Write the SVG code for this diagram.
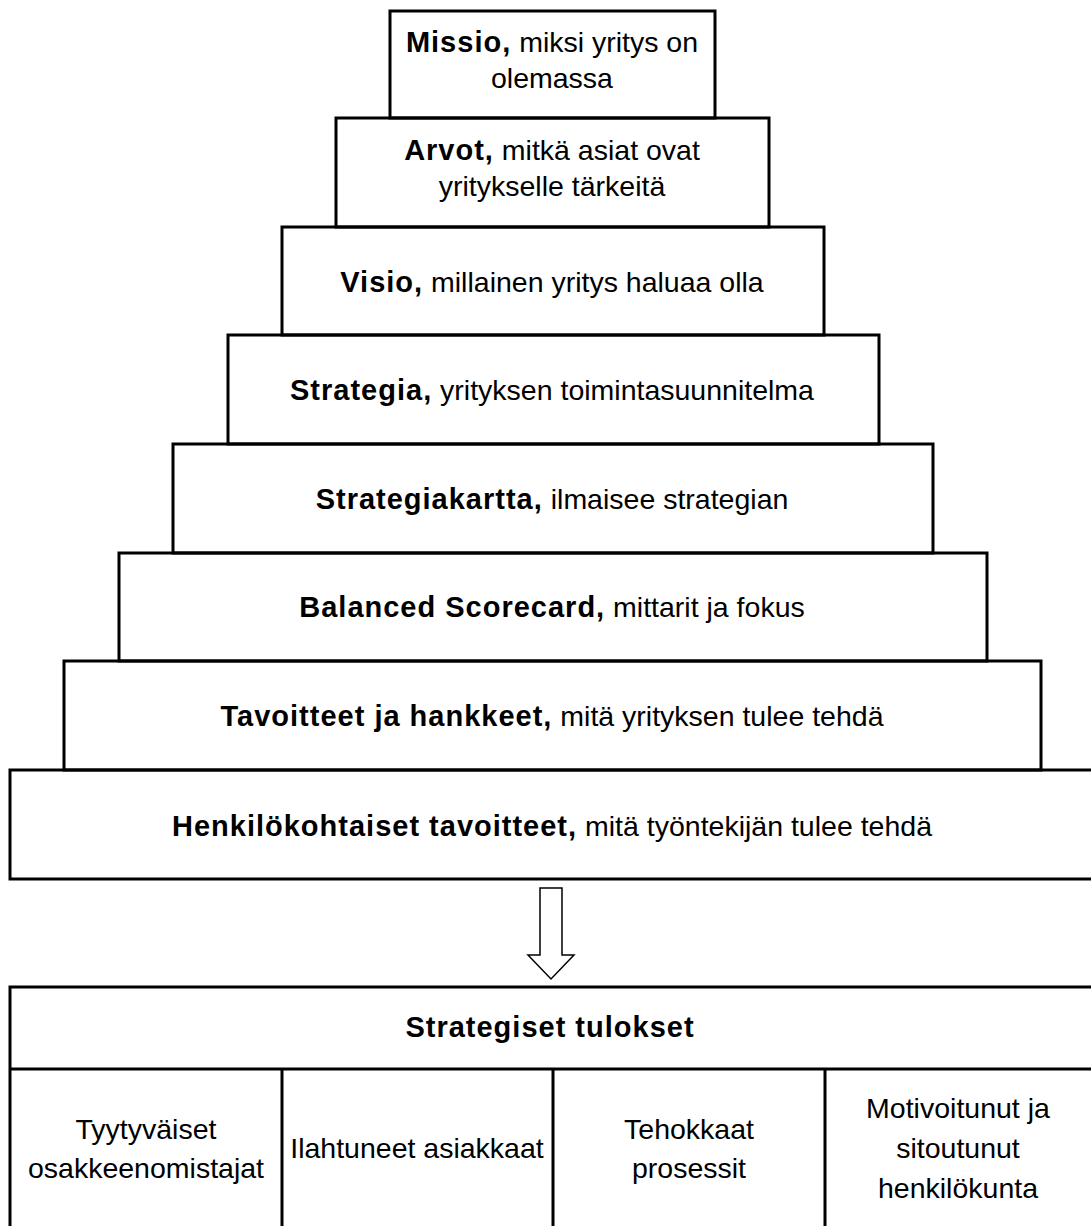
<svg xmlns="http://www.w3.org/2000/svg" width="1091" height="1226" viewBox="0 0 1091 1226">
  <style>
    .box { fill: none; stroke: #000; stroke-width: 3; }
    .line { stroke: #000; stroke-width: 3; }
    text { font-family: "Liberation Sans", Arial, sans-serif; font-size: 28.5px; fill: #000; text-anchor: middle; }
    .b { font-weight: bold; font-size: 29px; letter-spacing: 1px; }
    .arrow { fill: #fff; stroke: #000; stroke-width: 1.5; stroke-linejoin: miter; }
  </style>
  <rect width="1091" height="1226" fill="#fff"/>

  <!-- pyramid of levels, narrowest at the top -->
  <g id="missio">
    <rect class="box" x="390" y="11" width="325" height="107"/>
    <text x="552" y="52"><tspan class="b">Missio,</tspan> miksi yritys on</text>
    <text x="552" y="88">olemassa</text>
  </g>
  <g id="arvot">
    <rect class="box" x="336" y="118" width="433" height="109"/>
    <text x="552" y="160"><tspan class="b">Arvot,</tspan> mitkä asiat ovat</text>
    <text x="552" y="196">yritykselle tärkeitä</text>
  </g>
  <g id="visio">
    <rect class="box" x="282" y="227" width="542" height="108"/>
    <text x="552" y="292"><tspan class="b">Visio,</tspan> millainen yritys haluaa olla</text>
  </g>
  <g id="strategia">
    <rect class="box" x="228" y="335" width="651" height="109"/>
    <text x="552" y="400"><tspan class="b">Strategia,</tspan> yrityksen toimintasuunnitelma</text>
  </g>
  <g id="strategiakartta">
    <rect class="box" x="173" y="444" width="760" height="109"/>
    <text x="552" y="509"><tspan class="b">Strategiakartta,</tspan> ilmaisee strategian</text>
  </g>
  <g id="balanced-scorecard">
    <rect class="box" x="119" y="553" width="868" height="108"/>
    <text x="552" y="617"><tspan class="b">Balanced Scorecard,</tspan> mittarit ja fokus</text>
  </g>
  <g id="tavoitteet">
    <rect class="box" x="64" y="661" width="977" height="109"/>
    <text x="552" y="726"><tspan class="b">Tavoitteet ja hankkeet,</tspan> mitä yrityksen tulee tehdä</text>
  </g>
  <g id="henkilokohtaiset">
    <rect class="box" x="10" y="770" width="1086" height="109"/>
    <text x="552" y="836"><tspan class="b">Henkilökohtaiset tavoitteet,</tspan> mitä työntekijän tulee tehdä</text>
  </g>

  <!-- block arrow down to the results -->
  <g id="connectors">
    <path class="arrow" d="M540,888 H562 V955 H574 L551,979 L528,955 H540 Z"/>
  </g>

  <!-- results table -->
  <g id="strategiset-tulokset">
    <rect class="box" x="10" y="987" width="1086" height="250"/>
    <line class="line" x1="10" y1="1069" x2="1096" y2="1069"/>
    <text x="550" y="1037" class="b" style="font-weight:bold;font-size:29px;letter-spacing:1px">Strategiset tulokset</text>
  </g>
  <g id="osakkeenomistajat">
    <line class="line" x1="282" y1="1069" x2="282" y2="1230"/>
    <text x="146" y="1139">Tyytyväiset</text>
    <text x="146" y="1178">osakkeenomistajat</text>
  </g>
  <g id="asiakkaat">
    <line class="line" x1="553" y1="1069" x2="553" y2="1230"/>
    <text x="417" y="1158">Ilahtuneet asiakkaat</text>
  </g>
  <g id="prosessit">
    <line class="line" x1="825" y1="1069" x2="825" y2="1230"/>
    <text x="689" y="1139">Tehokkaat</text>
    <text x="689" y="1178">prosessit</text>
  </g>
  <g id="henkilokunta">
    <text x="958" y="1118">Motivoitunut ja</text>
    <text x="958" y="1158">sitoutunut</text>
    <text x="958" y="1198">henkilökunta</text>
  </g>
</svg>
